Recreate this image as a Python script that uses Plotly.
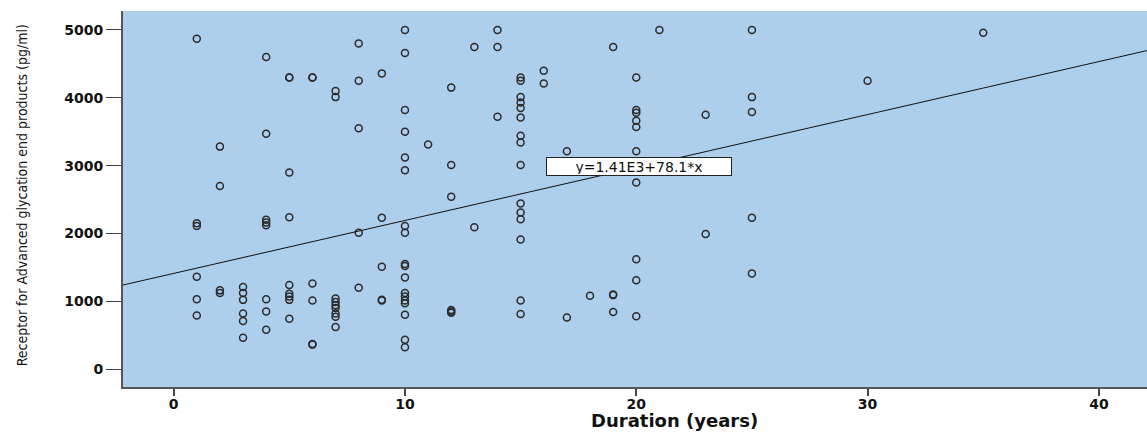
import plotly.graph_objects as go

# Duration (years) for each subject, grouped by column
duration = (
    [1]*6 + [2]*4 + [3]*6 + [4]*8 + [5]*9 + [6]*6 + [7]*9 + [8]*5 + [9]*5
    + [10]*18 + [11]*1 + [12]*6 + [13]*2 + [14]*3 + [15]*15 + [16]*2 + [17]*2
    + [18]*1 + [19]*4 + [20]*10 + [21]*1 + [23]*2 + [25]*5 + [30]*1 + [35]*1
)
# RAGE (pg/ml), same order
rage = [
    4870, 2150, 2110, 1360, 1030, 790,                      # 1
    3280, 2700, 1160, 1120,                                 # 2
    1210, 1120, 1020, 820, 710, 460,                        # 3
    4600, 3470, 2200, 2160, 2120, 1030, 850, 580,           # 4
    4300, 4300, 2900, 2240, 1240, 1110, 1070, 1020, 740,    # 5
    4300, 4300, 1260, 1010, 370, 360,                       # 6
    4100, 4010, 1040, 990, 940, 900, 820, 770, 620,         # 7
    4800, 4250, 3550, 2010, 1200,                           # 8
    4360, 2230, 1510, 1020, 1010,                           # 9
    5000, 4660, 3820, 3500, 3120, 2930, 2110, 2010, 1550, 1520,
    1350, 1120, 1070, 1010, 970, 800, 430, 320,             # 10
    3310,                                                   # 11
    4150, 3010, 2540, 870, 850, 830,                        # 12
    4750, 2090,                                             # 13
    5000, 4750, 3720,                                       # 14
    4300, 4250, 4010, 3930, 3850, 3710, 3440, 3340, 3010, 2440,
    2310, 2210, 1910, 1010, 810,                            # 15
    4400, 4210,                                             # 16
    3210, 760,                                              # 17
    1080,                                                   # 18
    4750, 1100, 1090, 840,                                  # 19
    4300, 3820, 3780, 3660, 3570, 3210, 2750, 1620, 1310, 780,  # 20
    5000,                                                   # 21
    3750, 1990,                                             # 23
    5000, 4010, 3790, 2230, 1410,                           # 25
    4250,                                                   # 30
    4960,                                                   # 35
]

intercept = 1410.0
slope = 78.1
fit_label = "y=1.41E3+78.1*x"
x_title = "Duration (years)"
y_title = "Receptor for Advanced glycation end products (pg/ml)"

x_ticks = [0, 10, 20, 30, 40]
y_ticks = [0, 1000, 2000, 3000, 4000, 5000]
x_range = [-2.19, 42.08]
y_range = [-265, 5280]

line_x = x_range
line_y = [intercept + slope * v for v in line_x]

fig = go.Figure()
fig.add_trace(go.Scatter(
    x=duration, y=rage, mode="markers",
    marker=dict(symbol="circle-open", size=7, color="#2b2b2b",
                line=dict(width=1.5, color="#2b2b2b")),
    showlegend=False, hoverinfo="x+y",
))
fig.add_trace(go.Scatter(
    x=line_x, y=line_y, mode="lines",
    line=dict(color="#111111", width=1),
    showlegend=False, hoverinfo="skip",
))

fig.add_annotation(
    x=20.1, y=2990, xref="x", yref="y", text=fit_label, showarrow=False,
    font=dict(family="DejaVu Sans", size=14, color="#111111"),
    bgcolor="white", bordercolor="#222222", borderwidth=1,
    width=182, height=15, borderpad=1,
)
# axis titles
fig.add_annotation(
    x=-0.0986, y=0.51, xref="paper", yref="paper", text=y_title, showarrow=False,
    textangle=-90, xanchor="center", yanchor="middle",
    font=dict(family="DejaVu Sans Condensed, Roboto, sans-serif", size=14, color="#111111"),
)
fig.add_annotation(
    x=0.539, y=-0.0878, xref="paper", yref="paper", text=x_title, showarrow=False,
    xanchor="center", yanchor="middle",
    font=dict(family="DejaVu Sans", size=18, color="#111111", weight="bold"),
)

tick_font = dict(family="DejaVu Sans", size=14, color="#111111", weight="bold")

fig.update_layout(
    width=1147, height=435,
    margin=dict(l=123, r=0, t=11, b=48),
    paper_bgcolor="white",
    plot_bgcolor="#ADCFEC",
    xaxis=dict(
        range=x_range, tickvals=x_ticks, ticktext=[str(v) for v in x_ticks],
        ticks="outside", ticklen=7, tickwidth=2, tickcolor="#444444",
        showgrid=False, zeroline=False, automargin=False,
        showline=True, linecolor="#555555", linewidth=2, mirror=False,
        tickfont=tick_font, ticklabelstandoff=-4,
    ),
    yaxis=dict(
        range=y_range, tickvals=y_ticks, ticktext=[str(v) for v in y_ticks],
        ticks="outside", ticklen=15, tickwidth=1, tickcolor="#444444",
        showgrid=False, zeroline=False, automargin=False,
        showline=True, linecolor="#555555", linewidth=2, mirror=True,
        tickfont=tick_font,
    ),
)

fig.write_html(
    "out.html",
    config={"displayModeBar": False},
    post_script="document.body.style.margin='0';document.body.style.overflow='hidden';",
)
